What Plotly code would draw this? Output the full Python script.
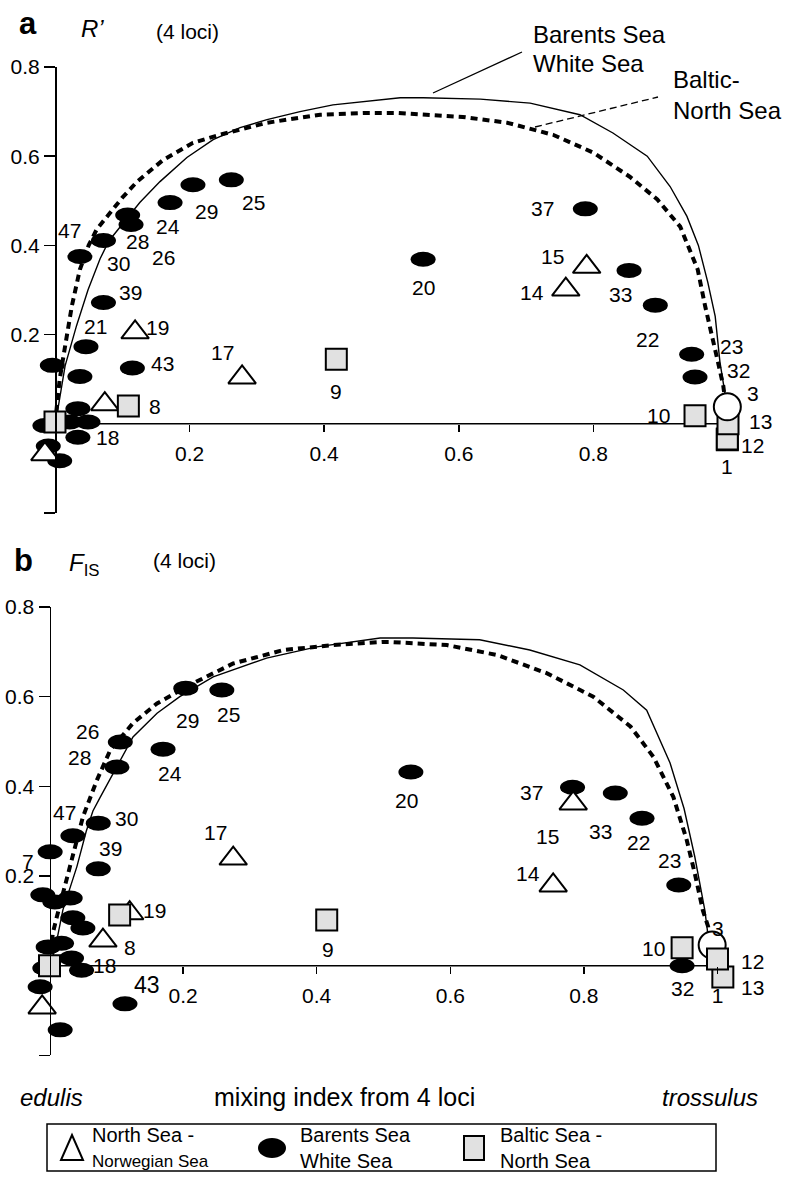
import plotly.graph_objects as go

W, H = 786, 1177
FONT = "Liberation Sans, Arial, Helvetica, sans-serif"

# ---------------- DATA ----------------
# x-axis ticks
a_xtick_vals = [0.2, 0.4, 0.6, 0.8]
a_xtick_text = ["0.2", "0.4", "0.6", "0.8"]
b_xtick_vals = [0.2, 0.4, 0.6, 0.8, 1.0]
b_xtick_text = ["0.2", "0.4", "0.6", "0.8", "1"]
ytick_vals = [-0.2, 0.2, 0.4, 0.6, 0.8]
ytick_text = [" ", "0.2", "0.4", "0.6", "0.8"]

# Panel a (R') -- Barents Sea / White Sea curve (solid)
a_bw_x = [0.0, 0.004, 0.015, 0.032, 0.049, 0.067, 0.08, 0.094, 0.126, 0.156, 0.196, 0.235, 0.275,
          0.315, 0.364, 0.413, 0.464, 0.513, 0.547, 0.632, 0.706, 0.78, 0.829, 0.88, 0.914, 0.939,
          0.956, 0.97, 0.981, 0.988, 0.996, 1.0]
a_bw_y = [0.0, 0.03, 0.13, 0.22, 0.30, 0.37, 0.41, 0.436, 0.496, 0.543, 0.597, 0.637, 0.664,
          0.682, 0.70, 0.715, 0.724, 0.731, 0.731, 0.728, 0.719, 0.693, 0.652, 0.60, 0.532, 0.465,
          0.40, 0.317, 0.241, 0.139, 0.063, 0.0]
# Panel a -- Baltic-North Sea curve (dashed)
a_bn_x = [0.0, 0.007, 0.015, 0.025, 0.037, 0.05, 0.062, 0.077, 0.10, 0.122, 0.161, 0.205, 0.245,
          0.315, 0.394, 0.464, 0.508, 0.606, 0.672, 0.74, 0.80, 0.854, 0.895, 0.929, 0.945, 0.955,
          0.966, 0.978, 0.985, 0.993, 1.0]
a_bn_y = [0.0, 0.10, 0.174, 0.264, 0.346, 0.40, 0.436, 0.465, 0.507, 0.543, 0.592, 0.630, 0.648,
          0.675, 0.693, 0.697, 0.697, 0.688, 0.675, 0.648, 0.608, 0.554, 0.503, 0.442, 0.38, 0.346,
          0.264, 0.19, 0.139, 0.085, 0.0]

# Panel a points
a_bar_lab = ["25", "29", "24", "28", "26", "30", "47", "39", "21", "43", "", "", "", "", "", "",
             "18", "", "", "20", "37", "33", "22", "23", "32"]
a_bar_x = [0.262, 0.205, 0.171, 0.108, 0.113, 0.072, 0.037, 0.072, 0.046, 0.115, -0.004, 0.037,
           0.034, 0.049, 0.022, -0.015, 0.034, -0.01, 0.007, 0.547, 0.788, 0.853, 0.892, 0.946, 0.951]
a_bar_y = [0.547, 0.536, 0.496, 0.468, 0.447, 0.411, 0.375, 0.272, 0.173, 0.125, 0.131, 0.106,
           0.034, 0.004, 0.004, -0.004, -0.03, -0.05, -0.083, 0.369, 0.482, 0.344, 0.266, 0.156, 0.105]
a_nor_lab = ["19", "17", "", "", "15", "14"]
a_nor_x = [0.119, 0.278, 0.074, -0.015, 0.79, 0.759]
a_nor_y = [0.205, 0.104, 0.044, -0.068, 0.352, 0.301]
a_bal_lab = ["8", "", "9", "10", "1", "12", "13"]
a_bal_x = [0.109, 0.0, 0.418, 0.951, 0.999, 0.999, 1.0]
a_bal_y = [0.04, 0.004, 0.145, 0.018, -0.036, -0.034, 0.0]
a_circ_lab = ["3"]
a_circ_x = [0.999]
a_circ_y = [0.038]

# Panel b (F_IS) -- curves
b_bw_x = [0.0, 0.008, 0.02, 0.041, 0.055, 0.065, 0.076, 0.101, 0.125, 0.161, 0.195, 0.245, 0.325,
          0.40, 0.495, 0.544, 0.644, 0.719, 0.794, 0.859, 0.894, 0.929, 0.95, 0.966, 0.974, 0.981,
          0.988, 0.99]
b_bw_y = [0.0, 0.035, 0.124, 0.221, 0.30, 0.345, 0.376, 0.443, 0.51, 0.563, 0.60, 0.644, 0.686,
          0.711, 0.731, 0.731, 0.727, 0.704, 0.671, 0.615, 0.57, 0.452, 0.35, 0.243, 0.184, 0.124,
          0.042, 0.0]
b_bn_x = [0.0, 0.005, 0.011, 0.031, 0.05, 0.071, 0.091, 0.125, 0.161, 0.215, 0.275, 0.35, 0.424,
          0.499, 0.51, 0.595, 0.67, 0.745, 0.814, 0.87, 0.904, 0.934, 0.954, 0.966, 0.978, 0.986, 0.99]
b_bn_y = [0.0, 0.073, 0.109, 0.221, 0.332, 0.414, 0.481, 0.541, 0.585, 0.63, 0.674, 0.704, 0.715,
          0.722, 0.722, 0.715, 0.693, 0.652, 0.60, 0.533, 0.466, 0.376, 0.28, 0.206, 0.124, 0.087, 0.0]

# Panel b points
b_bar_lab = ["29", "25", "26", "28", "24", "30", "47", "7", "39", "", "", "", "", "", "", "", "",
             "18", "", "", "", "43", "20", "37", "33", "22", "23", "32"]
b_bar_x = [0.204, 0.258, 0.106, 0.101, 0.170, 0.073, 0.035, 0.001, 0.073, -0.01, 0.008, 0.031,
           0.035, 0.05, -0.002, 0.018, 0.033, 0.048, -0.007, -0.014, 0.016, 0.113, 0.541, 0.783,
           0.847, 0.887, 0.942, 0.947]
b_bar_y = [0.619, 0.615, 0.499, 0.443, 0.483, 0.318, 0.29, 0.254, 0.216, 0.158, 0.142, 0.151,
           0.107, 0.084, 0.042, 0.05, 0.017, -0.01, -0.005, -0.047, -0.143, -0.085, 0.432, 0.398,
           0.385, 0.329, 0.18, 0.0]
b_nor_lab = ["8", "19", "17", "", "15", "14"]
b_nor_x = [0.08, 0.12, 0.275, -0.011, 0.784, 0.754]
b_nor_y = [0.056, 0.117, 0.239, -0.093, 0.362, 0.179]
b_bal_lab = ["", "", "9", "10", "13", "12"]
b_bal_x = [0.105, 0.0, 0.415, 0.947, 1.008, 1.0]
b_bal_y = [0.113, 0.0, 0.102, 0.04, -0.025, 0.015]
b_circ_lab = ["3"]
b_circ_x = [0.992]
b_circ_y = [0.046]

# Text
legend_names = [["North Sea -", "Norwegian Sea"], ["Barents Sea", "White Sea"], ["Baltic Sea -", "North Sea"]]
curve_names = [["Barents Sea", "White Sea"], ["Baltic-", "North Sea"]]

# ---------------- STYLE / LAYOUT ----------------
# label offsets (pixels: dx right, dy down)
a_off = {"25": (22, 23), "29": (14, 27), "24": (-2, 24), "28": (10, 26), "26": (32, 33),
         "30": (15, 23), "47": (-10, -26), "39": (27, -10), "21": (10, -20), "43": (30, -5),
         "18": (30, 0), "19": (22, -5), "17": (-20, -25), "8": (27, 1), "9": (0, 32),
         "20": (0, 28), "15": (-34, -10), "14": (-34, 3), "33": (-9, 24), "22": (-8, 34),
         "37": (-43, 0), "23": (40, -8), "32": (43, -6), "10": (-37, 0), "3": (26, -13),
         "13": (32, -2), "12": (25, 7), "1": (0, 27)}
b_off = {"29": (2, 32), "25": (7, 25), "26": (-33, -10), "28": (-37, -10), "24": (7, 24),
         "30": (28, -5), "47": (-8, -23), "7": (-22, 10), "39": (12, -20), "18": (23, -5),
         "43": (22, -19), "8": (27, 7), "19": (25, -3), "17": (-18, -26), "9": (1, 30),
         "20": (-4, 28), "37": (-41, 5), "15": (-26, 33), "33": (-15, 38), "22": (-4, 24),
         "23": (-9, -25), "14": (-25, -12), "10": (-29, 1), "32": (0, 23), "3": (6, -17),
         "12": (35, 3), "13": (30, 11)}

XR = [-0.07, 1.08]
YR = [-0.2, 0.8]


def px_x(v):
    return v / W


def px_y(v):
    return 1 - v / H


# panel geometry in pixels (data 0 and 1 on x, -0.2 and 0.8 on y)
panels = {
    "a": dict(x0=55.0, x1=728.0, ytop=67.0, ybot=513.0),
    "b": dict(x0=49.5, x1=717.5, ytop=607.0, ybot=1055.4),
}


def xdomain(p):
    g = panels[p]
    k = g["x1"] - g["x0"]
    return [px_x(g["x0"] + XR[0] * k), px_x(g["x0"] + XR[1] * k)]


def ydomain(p):
    g = panels[p]
    return [px_y(g["ybot"]), px_y(g["ytop"])]


fig = go.Figure()
shapes = []
annotations = []


def add_panel(p, xa, ya, bw_x, bw_y, bn_x, bn_y, bar, nor, bal, circ, off, order_circle_last):
    # x axis line from 0 to 1 at y=0
    shapes.append(dict(type="line", xref=xa, yref=ya, x0=0, x1=1, y0=0, y1=0,
                       line=dict(color="black", width=1.5), layer="below"))
    # Barents/White Sea ellipses
    for lab, x, y in zip(*bar):
        shapes.append(dict(type="circle", xref=xa, yref=ya, xsizemode="pixel", ysizemode="pixel",
                           xanchor=x, yanchor=y, x0=-12.5, x1=12.5, y0=-7.5, y1=7.5,
                           fillcolor="black", line=dict(width=0), layer="below"))
    # curves
    fig.add_trace(go.Scatter(x=bw_x, y=bw_y, mode="lines", xaxis=xa, yaxis=ya,
                             line=dict(color="black", width=1.4), hoverinfo="skip"))
    fig.add_trace(go.Scatter(x=bn_x, y=bn_y, mode="lines", xaxis=xa, yaxis=ya,
                             line=dict(color="black", width=4, dash="7px,5px"), hoverinfo="skip"))
    tri = go.Scatter(x=nor[1], y=nor[2], mode="markers", xaxis=xa, yaxis=ya, cliponaxis=False,
                     marker=dict(symbol="triangle-up", size=24, color="white",
                                 line=dict(color="black", width=2)), hoverinfo="skip")
    sq = go.Scatter(x=bal[1], y=bal[2], mode="markers", xaxis=xa, yaxis=ya, cliponaxis=False,
                    marker=dict(symbol="square", size=21, color="#e1e1e1",
                                line=dict(color="black", width=2)), hoverinfo="skip")
    ci = go.Scatter(x=circ[1], y=circ[2], mode="markers", xaxis=xa, yaxis=ya, cliponaxis=False,
                    marker=dict(symbol="circle", size=27, color="white",
                                line=dict(color="black", width=2)), hoverinfo="skip")
    fig.add_trace(tri)
    if order_circle_last:
        fig.add_trace(sq)
        fig.add_trace(ci)
    else:
        fig.add_trace(ci)
        fig.add_trace(sq)
    # labels
    for group in (bar, nor, bal, circ):
        for lab, x, y in zip(*group):
            if not lab:
                continue
            dx, dy = off.get(lab, (20, 0))
            size = 21
            if p == "b" and lab == "43":
                size = 23
            annotations.append(dict(x=x, y=y, xref=xa, yref=ya, text=lab, showarrow=False,
                                    xshift=dx, yshift=-dy, xanchor="center", yanchor="middle",
                                    font=dict(size=size, color="black", family=FONT)))


add_panel("a", "x", "y", a_bw_x, a_bw_y, a_bn_x, a_bn_y,
          (a_bar_lab, a_bar_x, a_bar_y), (a_nor_lab, a_nor_x, a_nor_y),
          (a_bal_lab, a_bal_x, a_bal_y), (a_circ_lab, a_circ_x, a_circ_y), a_off, True)
add_panel("b", "x2", "y2", b_bw_x, b_bw_y, b_bn_x, b_bn_y,
          (b_bar_lab, b_bar_x, b_bar_y), (b_nor_lab, b_nor_x, b_nor_y),
          (b_bal_lab, b_bal_x, b_bal_y), (b_circ_lab, b_circ_x, b_circ_y), b_off, False)


def axis_pair(p, xtv, xtt):
    xd, yd = xdomain(p), ydomain(p)
    xpos = yd[0] + (0 - YR[0]) / (YR[1] - YR[0]) * (yd[1] - yd[0])
    ypos = xd[0] + (0 - XR[0]) / (XR[1] - XR[0]) * (xd[1] - xd[0])
    xa = dict(domain=xd, range=XR, anchor="free", position=xpos, showline=False,
              showgrid=False, zeroline=False, ticks="outside", ticklen=7, tickwidth=1.5,
              tickcolor="black", tickvals=xtv, ticktext=xtt, ticklabelstandoff=4,
              automargin=False,
              tickfont=dict(size=21, color="black", family=FONT), fixedrange=True)
    ya = dict(domain=yd, range=YR, anchor="free", position=ypos, showline=True, linecolor="black",
              linewidth=1.5, showgrid=False, zeroline=False, ticks="outside", ticklen=11,
              tickwidth=1.5, tickcolor="black", tickvals=ytick_vals, ticktext=ytick_text,
              automargin=False,
              tickfont=dict(size=21, color="black", family=FONT), fixedrange=True)
    return xa, ya


xa1, ya1 = axis_pair("a", a_xtick_vals, a_xtick_text)
xa2, ya2 = axis_pair("b", b_xtick_vals, b_xtick_text)


def txt(x, y, s, size, xanchor="left", **kw):
    annotations.append(dict(x=px_x(x), y=px_y(y), xref="paper", yref="paper", text=s,
                            showarrow=False, xanchor=xanchor, yanchor="middle",
                            font=dict(size=size, color="black", family=FONT), **kw))


# panel headers
txt(28, 24, "<b>a</b>", 31, xanchor="center")
txt(79, 29, "<i>R’</i>", 24)
txt(154, 31, "(4 loci)", 21)
txt(23, 561, "<b>b</b>", 31, xanchor="center")
txt(67, 564, "<i>F</i><sub>IS</sub>", 24)
txt(151, 560, "(4 loci)", 21)

# curve names and leader lines
txt(531, 35, curve_names[0][0], 24)
txt(531, 64, curve_names[0][1], 24)
txt(671, 80, curve_names[1][0], 24)
txt(671, 110, curve_names[1][1], 24)
shapes.append(dict(type="line", xref="paper", yref="paper", x0=px_x(433), y0=px_y(93),
                   x1=px_x(522), y1=px_y(52), line=dict(color="black", width=1.3)))
shapes.append(dict(type="line", xref="paper", yref="paper", x0=px_x(535), y0=px_y(127),
                   x1=px_x(658), y1=px_y(97), line=dict(color="black", width=1.3, dash="7px,4px")))

# bottom axis texts
txt(18, 1097, "<i>edulis</i>", 24)
txt(212, 1097, "mixing index from 4 loci", 25)
txt(760, 1097, "<i>trossulus</i>", 24, xanchor="right")

# legend box
LB = dict(l=47, r=716, t=1124, b=1171)
shapes.append(dict(type="rect", xref="paper", yref="paper", x0=px_x(LB["l"]), x1=px_x(LB["r"]),
                   y0=px_y(LB["b"]), y1=px_y(LB["t"]), line=dict(color="black", width=1.5),
                   fillcolor="white", layer="below"))
ly = px_y(1148)
shapes.append(dict(type="path", xref="paper", yref="paper", xsizemode="pixel", ysizemode="pixel",
                   xanchor=px_x(72), yanchor=ly, path="M -11 -12 L 11 -12 L 0 13 Z",
                   fillcolor="white", line=dict(color="black", width=2)))
shapes.append(dict(type="circle", xref="paper", yref="paper", xsizemode="pixel", ysizemode="pixel",
                   xanchor=px_x(272), yanchor=ly, x0=-14, x1=14, y0=-10, y1=10,
                   fillcolor="black", line=dict(width=0)))
shapes.append(dict(type="rect", xref="paper", yref="paper", xsizemode="pixel", ysizemode="pixel",
                   xanchor=px_x(474), yanchor=ly, x0=-10, x1=10, y0=-12, y1=12,
                   fillcolor="#e1e1e1", line=dict(color="black", width=2)))
txt(90, 1135, legend_names[0][0], 20)
txt(90, 1161, legend_names[0][1], 17)
txt(298, 1135, legend_names[1][0], 20)
txt(298, 1161, legend_names[1][1], 20)
txt(498, 1135, legend_names[2][0], 20)
txt(498, 1161, legend_names[2][1], 20)

fig.update_layout(width=W, height=H,
                  margin=dict(l=0, r=0, t=0, b=0, pad=0, autoexpand=False),
                  showlegend=False, autosize=False,
                  paper_bgcolor="white", plot_bgcolor="white",
                  xaxis=xa1, yaxis=ya1, xaxis2=xa2, yaxis2=ya2,
                  shapes=shapes, annotations=annotations,
                  font=dict(family=FONT, color="black"))

fig.write_html("out.html", config={"displayModeBar": False, "staticPlot": True},
               post_script=("document.documentElement.style.margin='0';"
                            "document.documentElement.style.padding='0';"
                            "document.documentElement.style.overflow='hidden';"
                            "document.body.style.margin='0';"
                            "document.body.style.padding='0';"
                            "document.body.style.overflow='hidden';"))
